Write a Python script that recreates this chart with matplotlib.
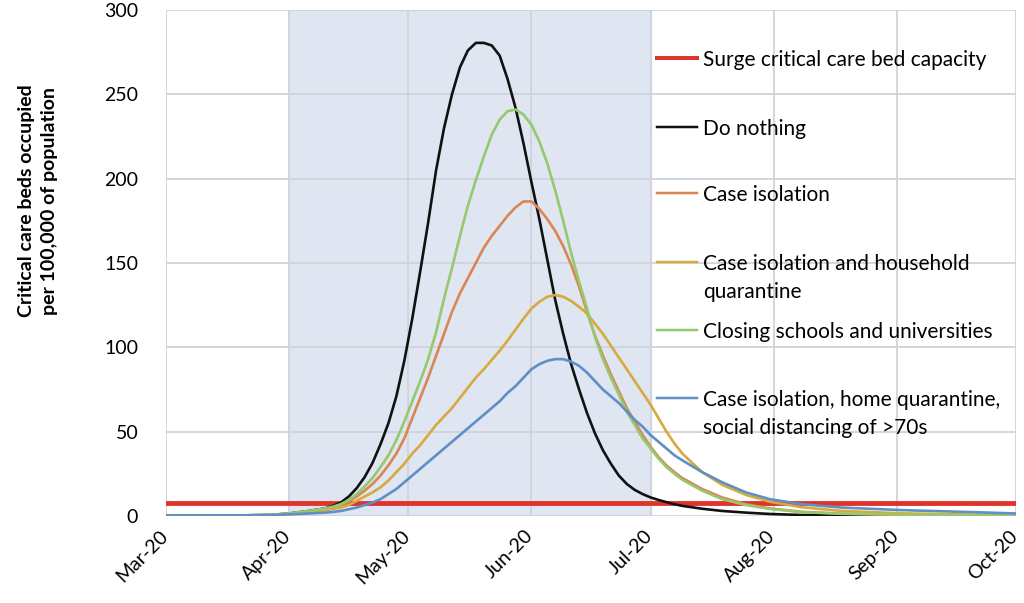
import pandas as pd
import numpy as np
import matplotlib
matplotlib.use('Agg')
import matplotlib.pyplot as plt
import matplotlib.dates as mdates
import matplotlib.transforms as mtransforms
from matplotlib.lines import Line2D

plt.rcParams['font.family'] = ['Lato', 'DejaVu Sans']

start = pd.Timestamp('2020-03-01')
end = pd.Timestamp('2020-10-01')

surge_capacity = 8

# days after 1 Mar 2020
days = [0, 20, 26, 31, 36, 40,
        42, 44, 46, 48, 50, 52, 54, 56, 58, 60,
        62, 64, 66, 68, 70, 72, 74, 76, 78, 80,
        82, 84, 86, 88, 90, 92, 94, 96, 98, 100,
        102, 104, 106, 108, 110, 112, 114, 116, 118, 120,
        122, 124, 126, 128, 130,
        135, 140, 146, 152, 160, 170, 185, 200, 214]

do_nothing = [0.3, 0.4, 0.6, 1.5, 3, 4.5,
              6, 8, 11.5, 16.5, 23, 31.5, 42.5, 55, 71, 92,
              117, 145, 174, 205, 230, 250, 266, 276, 280.5, 280.5,
              279, 273, 259, 242, 221, 198, 176, 152, 128, 108,
              90, 75, 61, 49, 39, 31, 24, 19, 15.5, 13,
              11, 9.5, 8.2, 7, 6,
              4.3, 3, 2, 1.2, 0.6, 0.3, 0.2, 0.2, 0.2]

closing_schools = [0.3, 0.4, 0.6, 1.5, 3, 4.5,
                   5.5, 7, 9.5, 13, 17.5, 22.5, 29, 36, 45, 56,
                   68, 80, 93, 109, 129, 147, 166, 184, 199, 213,
                   226, 235, 240, 241, 238, 232, 222, 209, 193, 175,
                   156, 139, 123, 106, 93, 82, 72, 62, 54, 46,
                   40, 34, 29, 25, 21.5,
                   15, 10, 6.5, 4.2, 2.3, 1.3, 0.7, 0.4, 0.3]

case_isolation = [0.3, 0.4, 0.6, 1.4, 2.7, 4,
                  5, 6, 8.5, 11.5, 15, 19, 24, 30, 37, 46,
                  58, 70, 82, 95, 108, 121, 132, 141, 150, 159,
                  166, 172, 178, 183, 186.5, 186.5, 182, 176, 169, 160,
                  149, 136, 121, 107, 95, 84, 74, 64, 56, 48,
                  41, 35, 30, 26, 22.5,
                  16, 11, 7, 4.5, 2.5, 1.4, 0.8, 0.5, 0.3]

household_quarantine = [0.3, 0.4, 0.6, 1.3, 2.4, 3.5,
                        4.2, 5, 6.5, 9, 11.5, 14, 17, 21, 26, 31,
                        37, 42, 48, 54, 59, 64, 70, 76, 82, 87,
                        92.5, 98, 104, 110.5, 117, 123, 127, 130, 131, 130,
                        127.5, 124, 120, 114, 108, 101, 94, 87, 80, 73,
                        66, 58, 50, 43, 37,
                        26, 18.5, 12.5, 8.5, 5.2, 3, 1.6, 0.9, 0.5]

distancing_70s = [0.3, 0.4, 0.5, 1, 1.5, 2,
                  2.4, 3, 4, 5, 6.5, 8, 10, 13, 16, 20,
                  24, 28, 32, 36, 40, 44, 48, 52, 56, 60,
                  64, 68, 73, 77, 82, 87, 90, 92, 93, 93,
                  91.5, 89, 85, 80, 75, 71, 67, 62, 57, 53,
                  48, 44, 40, 36, 33,
                  26, 20, 14, 10, 7, 5, 3.5, 2.5, 1.5]

labels = ['Surge critical care bed capacity', 'Do nothing', 'Case isolation',
          'Case isolation and household\nquarantine', 'Closing schools and universities',
          'Case isolation, home quarantine,\nsocial distancing of >70s']

c_red = '#e0342b'
c_black = '#111111'
c_orange = '#d98654'
c_yellow = '#d6aa3e'
c_green = '#95c96e'
c_blue = '#5f8fc6'
colors = [c_red, c_black, c_orange, c_yellow, c_green, c_blue]

dates = start + pd.to_timedelta(days, unit='D')

fig = plt.figure(figsize=(10.24, 6.03), dpi=100)
ax = fig.add_axes([166 / 1024, 1 - 516 / 603, 850 / 1024, 506 / 603])

ax.axvspan(pd.Timestamp('2020-04-01'), pd.Timestamp('2020-07-01'), color='#dfe5f1', zorder=0)
ax.grid(True, color='#cfd3db', lw=1.3, zorder=1)
ax.set_axisbelow(True)

ax.plot([start, end], [surge_capacity, surge_capacity], color=c_red, lw=3.5, zorder=3)
ax.plot(dates, do_nothing, color=c_black, lw=1.9, zorder=4)
ax.plot(dates, case_isolation, color=c_orange, lw=1.9, zorder=4)
ax.plot(dates, household_quarantine, color=c_yellow, lw=1.9, zorder=4)
ax.plot(dates, closing_schools, color=c_green, lw=1.9, zorder=4)
ax.plot(dates, distancing_70s, color=c_blue, lw=1.9, zorder=5)

ax.set_xlim(start, end)
ax.set_ylim(0, 300)
ax.set_yticks(range(0, 301, 50))
ax.xaxis.set_major_locator(mdates.MonthLocator())
ax.xaxis.set_major_formatter(mdates.DateFormatter('%b-%y'))
ax.tick_params(axis='both', length=0, labelsize=14, colors='black')
ax.tick_params(axis='y', pad=20)
ax.tick_params(axis='x', pad=8)
# nudge the rotated labels a little left so "Oct-20" stays inside the picture
shift = mtransforms.ScaledTranslation(-5 / 72, 0, fig.dpi_scale_trans)
for lab in ax.get_xticklabels():
    lab.set_rotation(45)
    lab.set_ha('right')
    lab.set_va('top')
    lab.set_rotation_mode('anchor')
    lab.set_transform(lab.get_transform() + shift)
for s in ax.spines.values():
    s.set_visible(False)

fig.text(38 / 1024, 1 - 201 / 603, 'Critical care beds occupied\nper 100,000 of population',
         rotation=90, ha='center', va='center', fontsize=14, fontweight='bold',
         linespacing=1.45)

# legend, drawn by hand so the rows keep Excel's even spacing
row_y = [58, 127, 193, 262, 330, 398]
row_w = [4, 2.5, 2.5, 2.5, 2.5, 2.5]
for y, lab, col, w in zip(row_y, labels, colors, row_w):
    fig.add_artist(Line2D([657 / 1024, 697 / 1024], [1 - y / 603, 1 - y / 603],
                          color=col, lw=w * 0.72, transform=fig.transFigure))
    for i, part in enumerate(lab.split('\n')):
        fig.text(703 / 1024, 1 - (y + i * 28) / 603, part, ha='left', va='center_baseline',
                 fontsize=15)

fig.savefig('out.png', dpi=100)
